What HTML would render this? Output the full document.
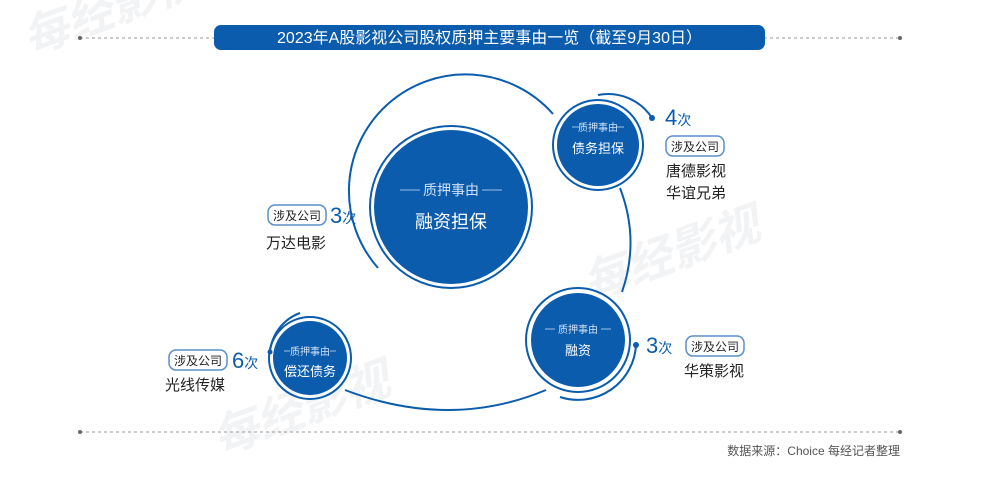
<!DOCTYPE html>
<html><head><meta charset="utf-8"><style>
html,body{margin:0;padding:0;background:#fff;}
body{width:985px;height:474px;overflow:hidden;font-family:"Liberation Sans","Noto Sans CJK SC",sans-serif;}
</style></head><body>
<svg width="985" height="474" viewBox="0 0 985 474" xmlns="http://www.w3.org/2000/svg" font-family="Liberation Sans, Noto Sans CJK SC, sans-serif">
<g fill="#f2f3f5" font-size="46" font-weight="bold" font-style="italic">
<text x="30" y="55" transform="rotate(-20 30 55)">每经影视</text>
<text x="590" y="300" transform="rotate(-20 590 300)">每经影视</text>
<text x="220" y="455" transform="rotate(-20 220 455)">每经影视</text>
</g>
<line x1="80" y1="38" x2="900" y2="38" stroke="#999" stroke-dasharray="3,3" stroke-width="1"/>
<circle cx="80" cy="38" r="2" fill="#666"/><circle cx="900" cy="38" r="2" fill="#666"/>
<line x1="80" y1="432" x2="900" y2="432" stroke="#999" stroke-dasharray="3,3" stroke-width="1"/>
<circle cx="80" cy="432" r="2" fill="#666"/><circle cx="900" cy="432" r="2" fill="#666"/>
<rect x="214" y="25" width="551" height="25" rx="7" fill="#0b5cad"/>
<text x="489.5" y="43" text-anchor="middle" fill="#fff" font-size="16">2023年A股影视公司股权质押主要事由一览（截至9月30日）</text>

<g fill="none" stroke="#0b5cad" stroke-width="2">
<path d="M553 114 A100 100 0 1 0 378 268"/>
<path d="M620 188 Q640 240 622 292"/>
<path d="M598 95 A52 52 0 0 1 652 118"/>
<path d="M546 390 Q450 430 345 390"/>
<path d="M636 345 A58 58 0 0 1 560 397"/>
<path d="M300 313 A46 46 0 0 0 270 352"/>
</g>
<circle cx="652" cy="118" r="3" fill="#0b5cad"/>
<circle cx="636" cy="345" r="3" fill="#0b5cad"/>
<circle cx="270" cy="352" r="2.5" fill="#0b5cad"/>

<circle cx="451" cy="207" r="81" fill="none" stroke="#0b5cad" stroke-width="2"/>
<circle cx="451" cy="207" r="77" fill="#0b5cad"/>
<line x1="400" y1="190" x2="420" y2="190" stroke="#9cc0e6"/><line x1="482" y1="190" x2="502" y2="190" stroke="#9cc0e6"/>
<text x="451" y="195" text-anchor="middle" fill="#cfe0f4" font-size="14">质押事由</text>
<text x="451" y="228" text-anchor="middle" fill="#fff" font-size="18">融资担保</text>

<circle cx="598" cy="145" r="45" fill="none" stroke="#0b5cad" stroke-width="2"/>
<circle cx="598" cy="145" r="41" fill="#0b5cad"/>
<line x1="572" y1="127" x2="580" y2="127" stroke="#9cc0e6"/><line x1="616" y1="127" x2="624" y2="127" stroke="#9cc0e6"/>
<text x="598" y="131" text-anchor="middle" fill="#cfe0f4" font-size="10">质押事由</text>
<text x="598" y="153" text-anchor="middle" fill="#fff" font-size="13">债务担保</text>

<circle cx="578" cy="340" r="52" fill="none" stroke="#0b5cad" stroke-width="2"/>
<circle cx="578" cy="340" r="47" fill="#0b5cad"/>
<line x1="545" y1="329" x2="555" y2="329" stroke="#9cc0e6"/><line x1="601" y1="329" x2="611" y2="329" stroke="#9cc0e6"/>
<text x="578" y="333" text-anchor="middle" fill="#cfe0f4" font-size="10">质押事由</text>
<text x="578" y="355" text-anchor="middle" fill="#fff" font-size="13">融资</text>

<circle cx="310" cy="358" r="41" fill="none" stroke="#0b5cad" stroke-width="2"/>
<circle cx="310" cy="358" r="37" fill="#0b5cad"/>
<line x1="284" y1="351" x2="290" y2="351" stroke="#9cc0e6"/><line x1="330" y1="351" x2="336" y2="351" stroke="#9cc0e6"/>
<text x="310" y="355" text-anchor="middle" fill="#cfe0f4" font-size="10">质押事由</text>
<text x="310" y="376" text-anchor="middle" fill="#fff" font-size="13">偿还债务</text>

<g font-size="14" fill="#222">
<rect x="268" y="205" width="58" height="20" rx="7" fill="#fff" stroke="#5b8fc9" stroke-width="1.5"/>
<text x="297" y="220" text-anchor="middle" font-size="12">涉及公司</text>
<text x="330" y="223" fill="#0b5cad" font-size="22">3<tspan font-size="14">次</tspan></text>
<text x="266" y="248" font-size="15">万达电影</text>

<text x="665" y="125" fill="#0b5cad" font-size="22">4<tspan font-size="14">次</tspan></text>
<rect x="666" y="136" width="58" height="20" rx="7" fill="#fff" stroke="#5b8fc9" stroke-width="1.5"/>
<text x="695" y="151" text-anchor="middle" font-size="12">涉及公司</text>
<text x="666" y="176" font-size="15">唐德影视</text>
<text x="666" y="198" font-size="15">华谊兄弟</text>

<text x="646" y="353" fill="#0b5cad" font-size="22">3<tspan font-size="14">次</tspan></text>
<rect x="686" y="336" width="58" height="20" rx="7" fill="#fff" stroke="#5b8fc9" stroke-width="1.5"/>
<text x="715" y="351" text-anchor="middle" font-size="12">涉及公司</text>
<text x="684" y="376" font-size="15">华策影视</text>

<rect x="169" y="350" width="58" height="20" rx="7" fill="#fff" stroke="#5b8fc9" stroke-width="1.5"/>
<text x="198" y="365" text-anchor="middle" font-size="12">涉及公司</text>
<text x="232" y="368" fill="#0b5cad" font-size="22">6<tspan font-size="14">次</tspan></text>
<text x="165" y="390" font-size="15">光线传媒</text>
</g>
<text x="900" y="455" text-anchor="end" fill="#555" font-size="12">数据来源：Choice 每经记者整理</text>
</svg>
</body></html>
